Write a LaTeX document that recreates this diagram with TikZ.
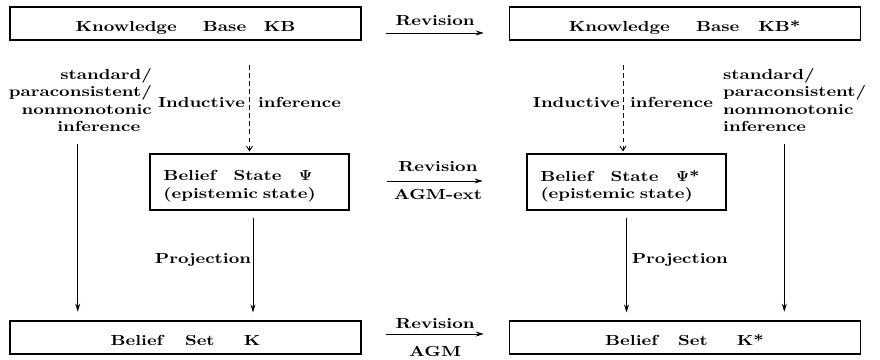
\documentclass[tikz,border=0pt]{standalone}
\usepackage{fontspec}
\newfontfamily\figfont{lmroman10-bold.otf}[FakeStretch=1.26]
\usetikzlibrary{arrows.meta,positioning,calc}

\begin{document}
\begin{tikzpicture}[
x=0.686pt, y=-0.686pt,
font=\figfont\boldmath,
bigbox/.style = {draw, line width=0.8pt,
              minimum width=240.8pt, minimum height=22.6pt,
              text height=11.5pt, text depth=0pt},
smallbox/.style = {draw, line width=0.8pt,
              text width=118pt, align=left, inner xsep=9pt,
              text depth=8.5pt,
              minimum width=136.5pt, minimum height=38.4pt},
arr/.style = {line width=0.6pt, -{Stealth[length=5.5pt, width=3.4pt]}},
dasharr/.style = {line width=0.6pt, dash pattern=on 3pt off 2.5pt,
              -{Straight Barb[length=3pt, width=4pt]}}
                ]
\useasboundingbox (0,0) rectangle (880,359);

\node (kb)  [bigbox] at (185.5,23.5) {Knowledge\hspace{18pt}Base\hspace{12pt}KB};
\node (kbs) [bigbox, right=100.8pt of kb] {Knowledge\hspace{18pt}Base\hspace{13pt}KB*};
\node (psi)  [smallbox] at (249.5,182) {Belief\hspace{12pt}State\hspace{12pt}$\Psi$\\(epistemic state)};
\node (psis) [smallbox] at (626.5,182) {Belief\hspace{12pt}State\hspace{12pt}$\Psi$*\\(epistemic state)};
\node (bs)  [bigbox] at (185.5,337.5) {Belief\hspace{15pt}Set\hspace{20pt}K};
\node (bss) [bigbox, right=100.8pt of bs] {Belief\hspace{14pt}Set\hspace{20pt}K*};

\node (stdl) [align=right, anchor=east] at (157,100)
      {standard/\\paraconsistent/\\nonmonotonic\\inference\hspace*{8pt}};
\node (stdr) [align=left, anchor=west] at (718,100)
      {standard/\\paraconsistent/\\nonmonotonic\\inference};

%% revisions
\draw [arr, shorten <=17pt, shorten >=17pt] ([yshift=-6.5pt]kb.east)
      -- node[above=1.5pt] {Revision} ([yshift=-6.5pt]kbs.west);
\draw [arr, shorten <=25.4pt, shorten >=30pt] ([yshift=0.7pt]psi.east)
      -- node[above=2.5pt] {Revision} node[below=2pt] {AGM-ext} ([yshift=0.7pt]psis.west);
\draw [arr, shorten <=17pt, shorten >=17pt] ([yshift=2.4pt]bs.east)
      -- node[above] {Revision} node[below=5pt] {AGM} ([yshift=2.4pt]bss.west);

%% inference and projection
\draw [dasharr, shorten <=17pt, shorten >=1.4pt] (psi.north |- kb.south)
      -- node[pos=0.55] {Inductive\hspace{9pt}inference} (psi.north);
\draw [dasharr, shorten <=17pt, shorten >=1.4pt] ([xshift=-2.4pt]psis.north |- kbs.south)
      -- node[pos=0.55] {Inductive\hspace{7pt}inference} ([xshift=-2.4pt]psis.north);
\draw [arr, shorten <=5pt, shorten >=6pt] ([xshift=-1.8pt]stdl.south)
      -- ([xshift=-1.8pt]stdl.south |- bs.north);
\draw [arr, shorten <=5pt, shorten >=6pt] ([xshift=-7.1pt]stdr.south)
      -- ([xshift=-7.1pt]stdr.south |- bss.north);
\draw [arr, shorten <=5pt, shorten >=5.5pt] ([xshift=2.4pt]psi.south)
      -- node[pos=0.45, left, inner sep=1pt] {Projection} ([xshift=2.4pt]psi.south |- bs.north);
\draw [arr, shorten <=5pt, shorten >=5.5pt] (psis.south)
      -- node[pos=0.45, right] {Projection} (psis.south |- bss.north);
%%
\end{tikzpicture}
\end{document}
